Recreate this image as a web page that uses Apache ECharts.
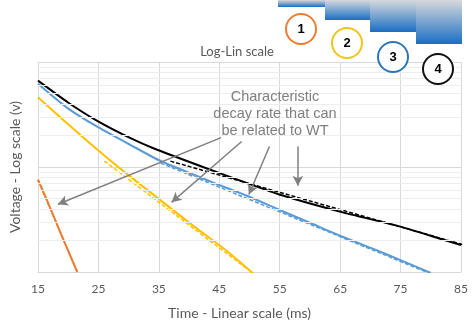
<!DOCTYPE html>
<html>
<head>
<meta charset="utf-8">
<script src="https://cdn.jsdelivr.net/npm/echarts@6/dist/echarts.min.js"></script>
<style>
  html, body { margin: 0; padding: 0; background: #fff; }
  #chart { width: 474px; height: 325px; }
</style>
</head>
<body>
<div id="chart"></div>
<script>
// Time axis ticks (ms)
const timeTicks = [15, 25, 35, 45, 55, 65, 75, 85];

// Measured decay curves: time (ms) and voltage (V)
const curve1Time = [15, 16.5, 18.8, 21.5];
const curve1Volt = [0.757, 0.481, 0.231, 0.10];

const curve2Time = [15, 19.9, 24.8, 29.7, 35.3, 40.7, 46.1, 50.5];
const curve2Volt = [4.61, 2.58, 1.47, 0.86, 0.481, 0.275, 0.161, 0.098];

const curve3Time = [15, 19.9, 24.8, 30.4, 35.3, 45.1, 49.7, 54.9, 59.8, 65.2, 70.6, 75.1, 80.0];
const curve3Volt = [6.22, 3.64, 2.42, 1.61, 1.14, 0.67, 0.53, 0.392, 0.298, 0.219, 0.165, 0.129, 0.098];

const curve4Time = [15, 19.9, 24.8, 30.4, 34.2, 42.3, 49.4, 54.9, 65.3, 75.1, 82.1, 85];
const curve4Volt = [6.64, 4.14, 2.75, 1.87, 1.50, 1.0, 0.709, 0.548, 0.372, 0.269, 0.203, 0.181];

// Exponential fits (straight on log-lin): start/end points
const fit1Time = [15, 21.5];
const fit1Volt = [0.75, 0.10];
const fit2Time = [26.0, 50.5];
const fit2Volt = [1.138, 0.098];
const fit3Time = [35.3, 80.0];
const fit3Volt = [1.09, 0.096];
const fit4Time = [36.9, 85.2];
const fit4Volt = [1.138, 0.183];

// Annotation arrows: [fromTime, fromVolt, toTime, toVolt]
const arrowTo1 = [45.3, 1.905, 18.3, 0.442];
const arrowTo2 = [48.7, 1.75, 37.1, 0.461];
const arrowTo3 = [53.3, 1.57, 49.9, 0.547];
const arrowTo4 = [58.0, 1.57, 58.0, 0.664];

// Minor log grid values
const minorLogValues = [0.2, 0.3, 0.4, 0.5, 0.6, 0.7, 0.8, 0.9, 2, 3, 4, 5, 6, 7, 8, 9];

const COLORS = ['#ed7d31', '#ffc000', '#5b9bd5', '#000000'];
const AXIS_FONT = 'Lato';

function pairs(ts, vs) { return ts.map((t, i) => [t, vs[i]]); }

function curveSeries(ts, vs, color) {
  return {
    type: 'line', data: pairs(ts, vs), showSymbol: false,
    smooth: 0.2,
    lineStyle: { color: color, width: 2 }, z: 3, silent: true
  };
}
function fitSeries(ts, vs, color) {
  return {
    type: 'line', data: pairs(ts, vs), showSymbol: false,
    lineStyle: { color: color, width: 1.5, type: [4, 2] }, z: 4, silent: true
  };
}
function arrowLine(a) {
  return [{ coord: [a[0], a[1]] }, { coord: [a[2], a[3]] }];
}

const chart = echarts.init(document.getElementById('chart'), null, { renderer: 'canvas' });

const series = [
  // minor log gridlines
  {
    type: 'line', data: [], silent: true, z: 1,
    markLine: {
      silent: true, symbol: ['none', 'none'], label: { show: false },
      lineStyle: { color: '#ededed', width: 1, type: 'solid' },
      data: minorLogValues.map(v => ({ yAxis: v }))
    }
  },
  curveSeries(curve1Time, curve1Volt, COLORS[0]),
  curveSeries(curve2Time, curve2Volt, COLORS[1]),
  curveSeries(curve3Time, curve3Volt, COLORS[2]),
  curveSeries(curve4Time, curve4Volt, COLORS[3]),
  fitSeries(fit1Time, fit1Volt, COLORS[0]),
  fitSeries(fit2Time, fit2Volt, COLORS[1]),
  fitSeries(fit3Time, fit3Volt, COLORS[2]),
  fitSeries(fit4Time, fit4Volt, COLORS[3]),
  // annotation arrows
  {
    type: 'line', data: [], silent: true, z: 5,
    markLine: {
      silent: true, symbol: ['none', 'arrow'], symbolSize: [8, 10],
      label: { show: false },
      lineStyle: { color: '#808080', width: 1.5, type: 'solid' },
      data: [arrowLine(arrowTo1), arrowLine(arrowTo2), arrowLine(arrowTo3), arrowLine(arrowTo4)]
    }
  }
];

// Step blocks and numbered circles in the upper right
const blocks = [
  { x: 278, w: 47, h: 7 },
  { x: 325, w: 45, h: 20 },
  { x: 370, w: 46, h: 32 },
  { x: 416, w: 46, h: 44 }
];
const circles = [
  { cx: 301, cy: 29, label: '1' },
  { cx: 347, cy: 43, label: '2' },
  { cx: 393, cy: 57, label: '3' },
  { cx: 438, cy: 69, label: '4' }
];
const circleStroke = ['#ed7d31', '#f2c318', '#2e75b6', '#111111'];

const graphics = [];
blocks.forEach(b => {
  graphics.push({
    type: 'rect', shape: { x: b.x, y: 0, width: b.w, height: b.h }, z: 10,
    style: {
      fill: new echarts.graphic.LinearGradient(0, 0, 0, 1, [
        { offset: 0, color: '#d6d9dc' },
        { offset: 1, color: '#1b6ec4' }
      ])
    }
  });
});
circles.forEach((c, i) => {
  graphics.push({
    type: 'circle', shape: { cx: c.cx, cy: c.cy, r: 15 }, z: 10,
    style: { fill: '#ffffff', stroke: circleStroke[i], lineWidth: 2 }
  });
  graphics.push({
    type: 'text', x: c.cx, y: c.cy, z: 11,
    style: {
      text: c.label, fill: '#000', font: 'bold 13px "Liberation Sans", Arial',
      textAlign: 'center', textVerticalAlign: 'middle'
    }
  });
});
graphics.push({
  type: 'text', x: 275, y: 88, z: 12,
  style: {
    text: 'Characteristic\ndecay rate that can\nbe related to WT',
    fill: '#7f7f7f', font: '14.5px "Liberation Sans", Arial',
    textAlign: 'center', lineHeight: 17
  }
});

chart.setOption({
  animation: false,
  backgroundColor: '#ffffff',
  title: {
    text: 'Log-Lin scale', left: 'center', top: 40,
    textStyle: { fontFamily: AXIS_FONT, fontSize: 13, fontWeight: 'normal', color: '#595959' }
  },
  grid: { left: 33, right: 13, top: 62, bottom: 49 },
  xAxis: {
    type: 'value', min: 15, max: 85, interval: 5,
    name: 'Time - Linear scale (ms)', nameLocation: 'middle', nameGap: 34,
    nameTextStyle: { fontFamily: AXIS_FONT, fontSize: 14, color: '#595959', padding: [0, 20, 0, 0] },
    axisLine: { show: true, lineStyle: { color: '#d9d9d9', width: 1 } },
    axisTick: { show: false },
    axisLabel: {
      margin: 11, fontFamily: AXIS_FONT, fontSize: 12, color: '#595959',
      formatter: v => (timeTicks.indexOf(v) >= 0 ? String(v) : '')
    },
    splitLine: { show: true, lineStyle: { color: ['#d9d9d9', 'rgba(0,0,0,0)'], width: 1 } }
  },
  yAxis: {
    type: 'log', logBase: 10, min: 0.1, max: 10,
    name: 'Voltage - Log scale (v)', nameLocation: 'middle', nameGap: 16,
    nameTextStyle: { fontFamily: AXIS_FONT, fontSize: 14, color: '#595959' },
    axisLine: { show: false }, axisTick: { show: false },
    axisLabel: { show: false },
    splitLine: { show: true, lineStyle: { color: '#d9d9d9', width: 1 } }
  },
  graphic: graphics,
  series: series
});
</script>
</body>
</html>
